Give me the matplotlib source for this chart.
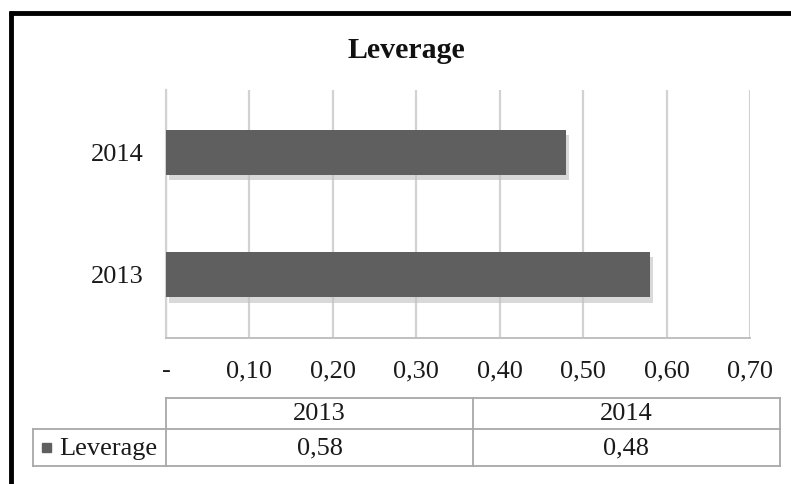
import matplotlib
matplotlib.use("Agg")
import matplotlib.pyplot as plt
import matplotlib.patheffects as pe
from matplotlib.lines import Line2D
from matplotlib.patches import Rectangle

# Data
years = ["2013", "2014"]
leverage = [0.58, 0.48]
value_labels = ["0,58", "0,48"]
x_ticks = [0.0, 0.1, 0.2, 0.3, 0.4, 0.5, 0.6, 0.7]
x_tick_labels = ["-", "0,10", "0,20", "0,30", "0,40", "0,50", "0,60", "0,70"]
series_name = "Leverage"
title = "Leverage"

W, H = 791, 484
plt.rcParams["font.family"] = ["Liberation Serif", "DejaVu Serif"]

fig = plt.figure(figsize=(W / 100, H / 100), dpi=100)
fig.patch.set_facecolor("white")


def fx(px):
    return px / W


def fy(py):
    return 1 - py / H


text_color = "#1a1a1a"

# Plot area
left, right, top, bottom = 166, 750, 90, 338
ax = fig.add_axes([fx(left), fy(bottom), fx(right - left), (bottom - top) / H])

bar_color = "#5f5f5f"
grid_color = "#d2d2d2"

bars = ax.barh(range(len(years)), leverage, height=0.37, color=bar_color,
               zorder=3)
for b in bars:
    b.set_path_effects([pe.SimplePatchShadow(offset=(2, -4),
                                             shadow_rgbFace="#c0c0c0",
                                             alpha=0.6),
                        pe.Normal()])

ax.set_xlim(0, 0.7)
ax.set_ylim(-0.52, 1.51)
ax.set_xticks(x_ticks)
ax.set_xticklabels(x_tick_labels)
ax.set_yticks(range(len(years)))
ax.set_yticklabels(years)
ax.tick_params(axis="both", length=0, labelsize=19, colors=text_color)
ax.tick_params(axis="x", pad=16)
ax.tick_params(axis="y", pad=16)
ax.get_xticklabels()[0].set_x(-0.01)
ax.grid(axis="x", color=grid_color, linewidth=1.6, zorder=0)
ax.set_axisbelow(True)
for s in ["top", "right"]:
    ax.spines[s].set_visible(False)
ax.spines["left"].set_color(grid_color)
ax.spines["left"].set_linewidth(1.6)
ax.spines["bottom"].set_color("#c0c0c0")
ax.spines["bottom"].set_linewidth(1.4)

# Title
fig.text(fx(406), fy(51), title, ha="center", va="center", fontsize=21.5,
         fontweight="bold", color="#111111")

# Data table under the axis
tc = "#a8a8a8"
col_edges = [166, 473, 780]
row_top, row_mid, row_bot = 398, 429, 466
legend_left = 33


def hline(x0, x1, y):
    fig.add_artist(Line2D([fx(x0), fx(x1)], [fy(y), fy(y)], color=tc,
                          linewidth=1.3, transform=fig.transFigure))


def vline(x, y0, y1):
    fig.add_artist(Line2D([fx(x), fx(x)], [fy(y0), fy(y1)], color=tc,
                          linewidth=1.3, transform=fig.transFigure))


hline(col_edges[0], col_edges[-1], row_top)
hline(legend_left, col_edges[-1], row_mid)
hline(legend_left, col_edges[-1], row_bot)
for x in col_edges:
    vline(x, row_top, row_bot)
vline(legend_left, row_mid, row_bot)

for i, (yr, lab) in enumerate(zip(years, value_labels)):
    cx = (col_edges[i] + col_edges[i + 1]) / 2
    fig.text(fx(cx), fy((row_top + row_mid) / 2 + 1), yr, ha="center",
             va="center", fontsize=19, color=text_color)
    fig.text(fx(cx), fy((row_mid + row_bot) / 2 + 1), lab, ha="center",
             va="center", fontsize=19, color=text_color)

# Legend key in the table
fig.add_artist(Rectangle((fx(42), fy(452)), fx(9), 9 / H, color=bar_color,
                         transform=fig.transFigure))
fig.text(fx(59), fy((row_mid + row_bot) / 2 + 1), series_name, ha="left",
         va="center", fontsize=19, color=text_color)

# Chart frame (left and top edges)
fig.add_artist(Line2D([fx(10.5), fx(10.5)], [fy(11), fy(H)], color="black",
                      linewidth=3.5, transform=fig.transFigure,
                      solid_capstyle="butt"))
fig.add_artist(Line2D([fx(9), fx(W)], [fy(12.5), fy(12.5)], color="black",
                      linewidth=3.5, transform=fig.transFigure,
                      solid_capstyle="butt"))

fig.savefig("out.png", dpi=100)
